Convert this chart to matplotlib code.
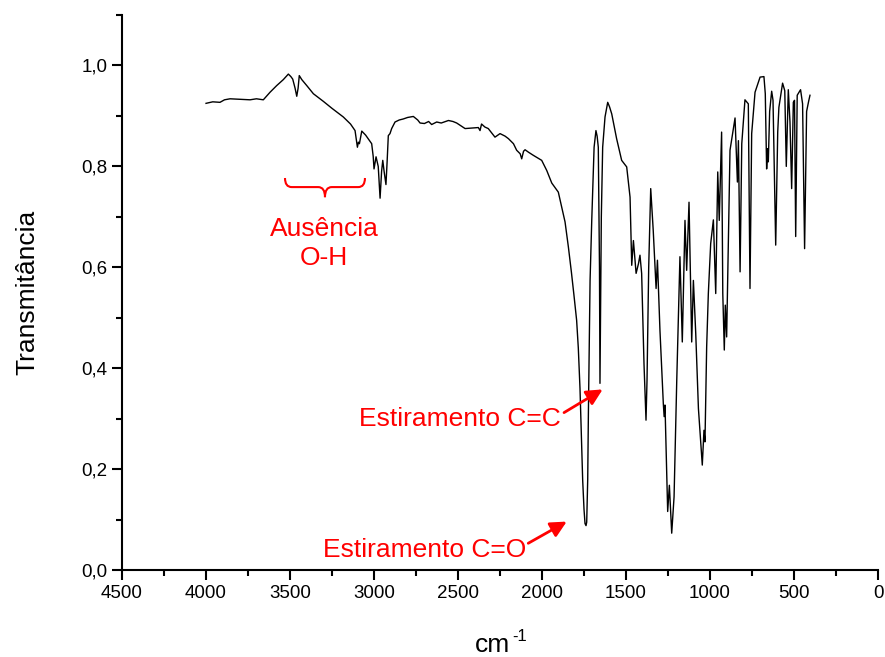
import numpy as np
import matplotlib
matplotlib.use('Agg')
import matplotlib.pyplot as plt
from matplotlib.path import Path
from matplotlib.patches import PathPatch
from matplotlib.ticker import MultipleLocator, FuncFormatter

plt.rcParams['font.family'] = ['Liberation Sans', 'DejaVu Sans']

# IR spectrum (wavenumber in cm-1, transmittance)
wavenumber = [
    4000, 3960, 3917, 3890, 3857, 3800, 3738, 3700, 3659, 3619, 3580, 3540,
    3510, 3495, 3484, 3470, 3460, 3452, 3445, 3430, 3400, 3361, 3302, 3250,
    3183, 3140, 3113, 3099, 3093, 3087, 3073, 3050, 3014, 3005, 3000, 2988,
    2975, 2964, 2955, 2948, 2940, 2929, 2922, 2915, 2905, 2895, 2875, 2850,
    2826, 2800, 2766, 2740, 2726, 2700, 2675, 2657, 2627, 2600, 2557, 2530,
    2508, 2458, 2420, 2379, 2369, 2360, 2353, 2340, 2320, 2280, 2250, 2220,
    2200, 2170, 2151, 2130, 2121, 2110, 2101, 2080, 2052, 2002, 1972, 1942,
    1903, 1883, 1863, 1843, 1825, 1810, 1794, 1784, 1774, 1766, 1758, 1750,
    1744, 1738, 1734, 1728, 1724,
    1714, 1704, 1690, 1679, 1672, 1665, 1658, 1655, 1652, 1647, 1639, 1625,
    1609, 1598, 1585, 1556, 1526, 1496, 1476, 1466, 1456, 1440, 1426, 1417,
    1407, 1393, 1381, 1375, 1365, 1353, 1338, 1321, 1313, 1298, 1278, 1273,
    1268, 1252, 1242, 1228, 1214, 1198, 1179, 1165, 1149, 1139, 1125, 1109,
    1099, 1085, 1069, 1046, 1036, 1030, 1020, 1010, 996, 980, 966, 954,
    945, 931, 924, 915, 909, 901, 881, 851, 837, 831, 821, 811,
    792, 772, 762, 752, 732, 702, 679, 671, 663, 657, 653, 645,
    633, 625, 609, 597, 590, 568, 555, 546, 534, 524, 514, 504,
    497, 490, 481, 461, 449, 437, 425, 413, 405,
]
transmittance = [
    0.925, 0.928, 0.927, 0.932, 0.934, 0.933, 0.932, 0.934, 0.932, 0.947, 0.960, 0.972,
    0.983, 0.978, 0.973, 0.955, 0.939, 0.955, 0.980, 0.972, 0.960, 0.944, 0.929, 0.915,
    0.898, 0.884, 0.871, 0.838, 0.848, 0.845, 0.870, 0.862, 0.845, 0.820, 0.795, 0.819,
    0.800, 0.737, 0.790, 0.812, 0.790, 0.764, 0.810, 0.861, 0.865, 0.875, 0.888, 0.892,
    0.894, 0.897, 0.899, 0.892, 0.886, 0.885, 0.889, 0.883, 0.888, 0.886, 0.891, 0.889,
    0.886, 0.875, 0.876, 0.877, 0.871, 0.884, 0.882, 0.878, 0.875, 0.858, 0.865, 0.860,
    0.855, 0.845, 0.832, 0.825, 0.815, 0.830, 0.833, 0.828, 0.822, 0.812, 0.792, 0.767,
    0.749, 0.719, 0.690, 0.640, 0.590, 0.545, 0.495, 0.440, 0.360, 0.270, 0.178, 0.120,
    0.092, 0.088, 0.095, 0.180, 0.310,
    0.574, 0.693, 0.838, 0.871, 0.860, 0.838, 0.600, 0.370, 0.500, 0.700, 0.838, 0.898,
    0.927, 0.918, 0.904, 0.855, 0.812, 0.799, 0.739, 0.604, 0.653, 0.588, 0.607, 0.624,
    0.588, 0.409, 0.297, 0.376, 0.600, 0.756, 0.673, 0.558, 0.614, 0.475, 0.330, 0.304,
    0.327, 0.116, 0.168, 0.073, 0.145, 0.376, 0.621, 0.452, 0.693, 0.594, 0.729, 0.452,
    0.574, 0.469, 0.320, 0.208, 0.277, 0.254, 0.442, 0.548, 0.647, 0.694, 0.548, 0.789,
    0.693, 0.868, 0.548, 0.436, 0.525, 0.462, 0.832, 0.896, 0.769, 0.851, 0.591, 0.845,
    0.932, 0.924, 0.558, 0.865, 0.947, 0.977, 0.978, 0.944, 0.795, 0.835, 0.809, 0.909,
    0.949, 0.931, 0.644, 0.868, 0.917, 0.965, 0.950, 0.800, 0.952, 0.888, 0.756, 0.927,
    0.931, 0.661, 0.941, 0.952, 0.924, 0.637, 0.909, 0.929, 0.941,
]

oh_label = 'Ausência\nO-H'
cc_label = 'Estiramento C=C'
co_label = 'Estiramento C=O'

fig = plt.figure(figsize=(8.85, 6.57), dpi=100)
ax = fig.add_axes([0.1379, 0.1324, 0.8542, 0.8447])

ax.plot(wavenumber, transmittance, color='black', linewidth=1.0)

ax.set_xlim(4500, 0)
ax.set_ylim(0, 1.1)

for side in ['top', 'right']:
    ax.spines[side].set_visible(False)
for side in ['left', 'bottom']:
    ax.spines[side].set_linewidth(1.5)

ax.xaxis.set_major_locator(MultipleLocator(500))
ax.xaxis.set_minor_locator(MultipleLocator(250))
ax.yaxis.set_major_locator(MultipleLocator(0.2))
ax.yaxis.set_minor_locator(MultipleLocator(0.1))
ax.yaxis.set_major_formatter(FuncFormatter(lambda v, p: f'{v:.1f}'.replace('.', ',')))
ax.tick_params(which='major', direction='out', length=7, width=1.5, labelsize=13.5)
ax.tick_params(which='minor', direction='out', length=4, width=1.5)

# x label "cm" with a plain "-1" superscript
ax.set_xlabel('cm', fontsize=19)
ax.xaxis.set_label_coords(0.49, -0.113)
ax.text(0.516, -0.106, '-1', transform=ax.transAxes, fontsize=12, ha='left', va='top')
ax.set_ylabel('Transmitância', fontsize=19)
ax.yaxis.set_label_coords(-0.11, 0.5)

# curly brace over the O-H region
brace = Path(
    [(3530, 0.777), (3530, 0.759), (3490, 0.759),
     (3332, 0.759), (3292, 0.759), (3292, 0.739),
     (3292, 0.759), (3252, 0.759), (3094, 0.759),
     (3054, 0.759), (3054, 0.777)],
    [Path.MOVETO, Path.CURVE3, Path.CURVE3,
     Path.LINETO, Path.CURVE3, Path.CURVE3,
     Path.CURVE3, Path.CURVE3, Path.LINETO,
     Path.CURVE3, Path.CURVE3])
ax.add_patch(PathPatch(brace, facecolor='none', edgecolor='red', linewidth=1.5))

ax.text(3298, 0.647, oh_label, color='red', fontsize=19, ha='center', va='center',
        linespacing=1.25)

arrow = dict(arrowstyle='-|>', color='red', lw=2, mutation_scale=24, shrinkA=0, shrinkB=0)
ax.annotate('', xy=(1639, 0.358), xytext=(1869, 0.312), arrowprops=arrow)
ax.annotate('', xy=(1853, 0.096), xytext=(2082, 0.053), arrowprops=arrow)
ax.text(1889, 0.286, cc_label, color='red', fontsize=19, ha='right', va='baseline')
ax.text(2095, 0.026, co_label, color='red', fontsize=19, ha='right', va='baseline')

plt.savefig('out.png', dpi=100)
